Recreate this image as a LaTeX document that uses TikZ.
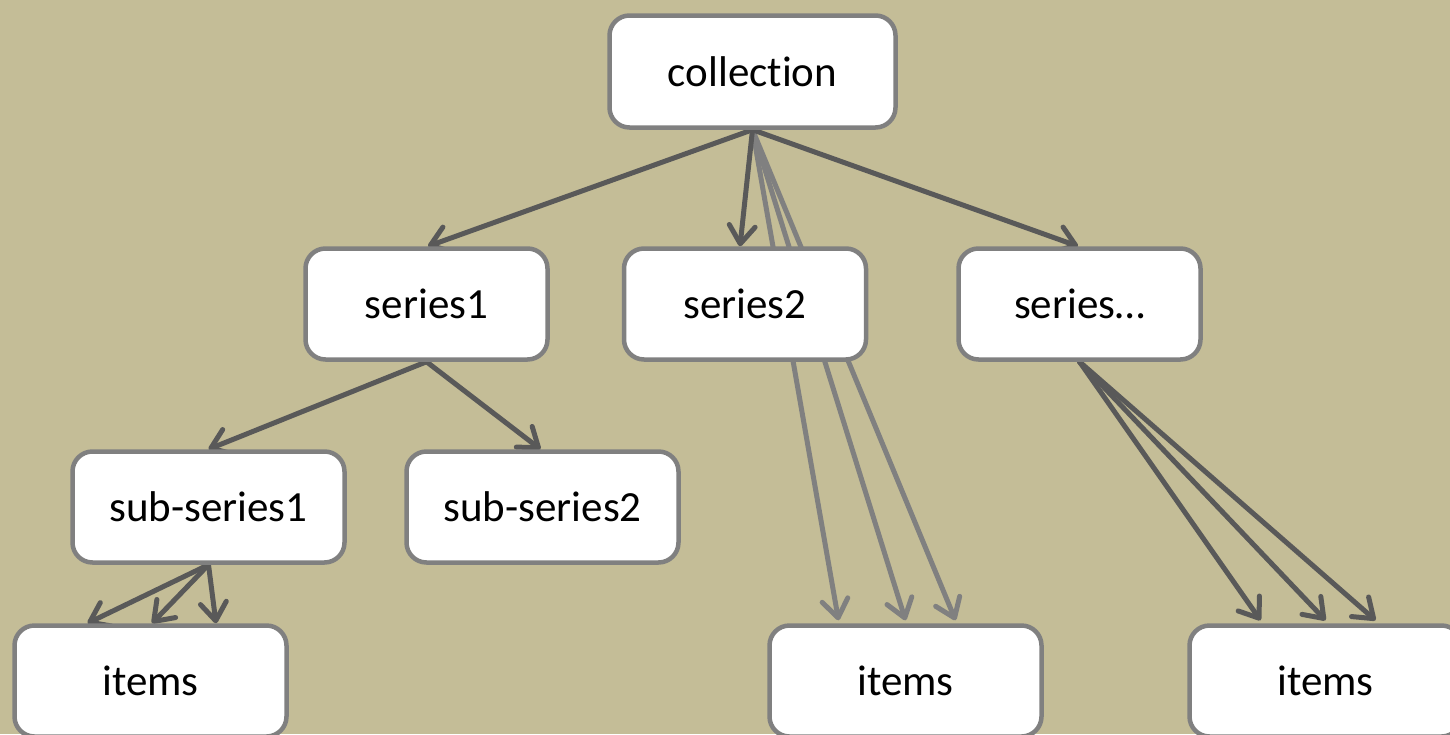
\documentclass[tikz,border=0pt]{standalone}
\usepackage{fontspec}
\setmainfont{Carlito}[Ligatures=NoCommon]
\usetikzlibrary{arrows.meta}
\definecolor{bgtan}{HTML}{C4BD97}
\definecolor{darkline}{HTML}{595959}
\definecolor{boxline}{HTML}{808080}
\pgfdeclarelayer{bg}
\pgfdeclarelayer{edges}
\pgfsetlayers{bg,edges,main}
\tikzset{
  box/.style={draw=boxline, fill=white, line width=4.5pt, rounded corners=20pt,
    inner sep=0pt, font=\fontsize{43}{50}\selectfont},
  boxa/.style={box, minimum width=286pt, minimum height=112pt},
  boxb/.style={box, minimum width=242pt, minimum height=111pt},
  boxc/.style={box, minimum width=272pt, minimum height=111pt},
  link/.style={line width=5pt, line cap=round, line join=round,
    -{Straight Barb[length=18pt,width=26pt,line cap=round,line join=round]}},
  darklink/.style={link, draw=darkline},
  graylink/.style={link, draw=boxline},
}
\begin{document}
\begin{tikzpicture}[x=1pt,y=-1pt]
\begin{pgfonlayer}{bg}
\fill[bgtan] (0,0) rectangle (1450,734);
\end{pgfonlayer}
\useasboundingbox (0,0) rectangle (1450,734);

\node[boxa] (coll) at (752.5,71.5) {collection};
\node[boxb] (s1) at (426.5,304) {series1};
\node[boxb] (s2) at (745,304) {series2};
\node[boxb] (sd) at (1079.5,304) {series…};
\node[boxc] (ss1) at (208.5,507) {sub-series1};
\node[boxc] (ss2) at (542.5,507) {sub-series2};
\node[boxc] (it1) at (150.5,681) {items};
\node[boxc] (it2) at (905.5,681) {items};
\node[boxc] (it3) at (1325.5,681) {items};

\begin{pgfonlayer}{edges}
\draw[graylink] (coll.south) -- ([xshift=-67pt,yshift=3pt]it2.north);
\draw[graylink] (coll.south) -- ([yshift=3pt]it2.north);
\draw[graylink] (coll.south) -- ([xshift=50pt,yshift=3pt]it2.north);
\draw[darklink] (coll.south) -- ([xshift=1.5pt]s1.north);
\draw[darklink] (coll.south) -- ([xshift=-5pt]s2.north);
\draw[darklink] (coll.south) -- ([xshift=-1.5pt]sd.north);
\draw[darklink] (s1.south) -- (ss1.north);
\draw[darklink] (s1.south) -- ([xshift=-2pt]ss2.north);
\draw[darklink] (ss1.south) -- ([xshift=-63pt]it1.north);
\draw[darklink] (ss1.south) -- ([xshift=1.5pt]it1.north);
\draw[darklink] (ss1.south) -- ([xshift=65.5pt]it1.north);
\draw[darklink] (sd.south) -- ([xshift=-65pt,yshift=3pt]it3.north);
\draw[darklink] (sd.south) -- ([yshift=3pt]it3.north);
\draw[darklink] (sd.south) -- ([xshift=50pt,yshift=3pt]it3.north);
\end{pgfonlayer}
\end{tikzpicture}
\end{document}
